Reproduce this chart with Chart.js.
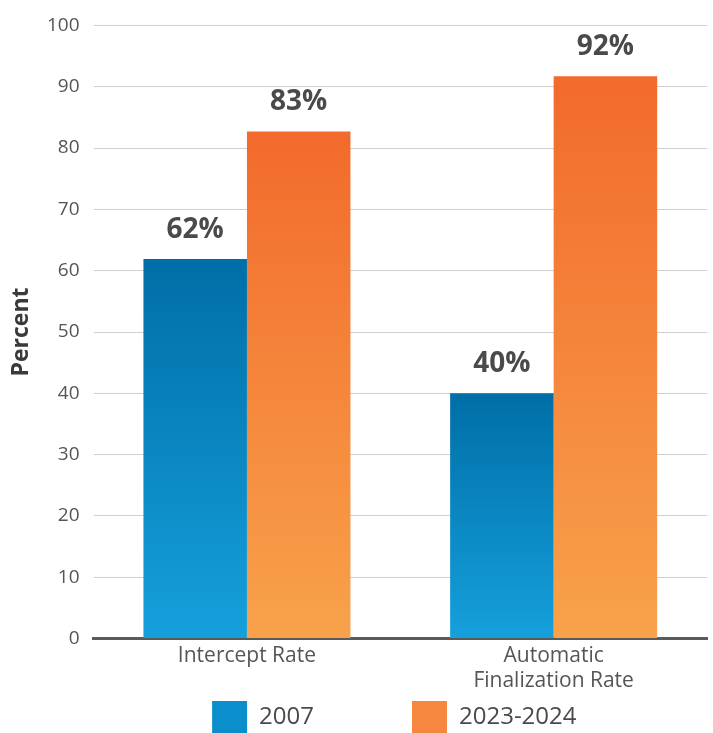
<!DOCTYPE html>
<html>
<head>
<meta charset="utf-8">
<script src="https://cdn.jsdelivr.net/npm/chart.js@4/dist/chart.umd.min.js"></script>
<style>
html,body{margin:0;padding:0;background:#fff;}
#wrap{width:713px;height:733px;position:relative;}
</style>
</head>
<body>
<div id="wrap"><canvas id="c" width="713" height="733"></canvas></div>
<script>
const categories = [["Intercept Rate"], ["Automatic", "Finalization Rate"]];
const seriesNames = ["2007", "2023-2024"];
const values2007 = [61.9, 40];
const values2023 = [82.7, 91.7];
const valueLabels2007 = ["62%", "40%"];
const valueLabels2023 = ["83%", "92%"];
const yTicks = [0, 10, 20, 30, 40, 50, 60, 70, 80, 90, 100];

const FONT = "'Open Sans', Lato, sans-serif";
const LEGEND_GAP = 98;

function barGradient(c, top, bottom, fallback) {
  const chart = c.chart;
  const y = chart.scales && chart.scales.y;
  if (!chart.chartArea || !y || c.type !== 'data') return fallback;
  const yTop = y.getPixelForValue(c.raw);
  const yBot = y.getPixelForValue(0);
  const g = chart.ctx.createLinearGradient(0, yTop, 0, yBot);
  g.addColorStop(0, top);
  g.addColorStop(1, bottom);
  return g;
}

const labelPlugin = {
  id: 'valueLabels',
  afterDatasetsDraw(chart) {
    const ctx = chart.ctx;
    const all = [valueLabels2007, valueLabels2023];
    ctx.save();
    ctx.font = "bold 28px " + FONT;
    ctx.fillStyle = "#4a4a4a";
    ctx.textAlign = "center";
    ctx.textBaseline = "alphabetic";
    chart.data.datasets.forEach((ds, i) => {
      const meta = chart.getDatasetMeta(i);
      meta.data.forEach((bar, j) => {
        ctx.fillText(all[i][j], bar.x, bar.y - 21);
      });
    });
    ctx.restore();
  }
};

// Spread legend items horizontally and centre them on the plot area
const legendSpread = {
  id: 'legendSpread',
  beforeDraw(chart) {
    const lg = chart.legend;
    if (!lg || !lg.legendItems) return;
    const lab = lg.options.labels;
    const oldPad = lab.padding;
    const ctx = chart.ctx;
    ctx.save();
    const fs = lab.font.size;
    ctx.font = fs + "px " + FONT;
    let total = 0;
    lg.legendItems.forEach(it => {
      total += lab.boxWidth + fs / 2 + ctx.measureText(it.text).width + LEGEND_GAP;
    });
    ctx.restore();
    const area = chart.chartArea;
    lg.left = area.left - 6;
    lg.right = area.right - 6;
    lg.width = area.right - area.left;
    lab.padding = LEGEND_GAP;
    lg.lineWidths = [total];
    lg.top -= (LEGEND_GAP - oldPad);
  }
};

new Chart(document.getElementById('c'), {
  type: 'bar',
  data: {
    labels: categories,
    datasets: [
      {
        label: seriesNames[0],
        data: values2007,
        backgroundColor: (c) => barGradient(c, '#006ea7', '#15a0dc', '#0a8fcc'),
        borderWidth: 0
      },
      {
        label: seriesNames[1],
        data: values2023,
        backgroundColor: (c) => barGradient(c, '#f26a2c', '#f8a24b', '#f5883e'),
        borderWidth: 0
      }
    ]
  },
  options: {
    responsive: false,
    animation: false,
    layout: { padding: { top: 15, right: 6, left: 0, bottom: -10 } },
    datasets: { bar: { categoryPercentage: 0.675, barPercentage: 1 } },
    scales: {
      x: {
        grid: { display: false, drawTicks: false },
        border: { display: true, color: '#5a5a5a', width: 3 },
        ticks: { color: '#555', font: { family: FONT, size: 21, lineHeight: 1.2 }, padding: 5 }
      },
      y: {
        min: 0, max: 100,
        afterBuildTicks: (axis) => { axis.ticks = yTicks.map(v => ({ value: v })); },
        grid: { color: '#cfcfcf', lineWidth: 1, drawTicks: false },
        border: { display: false },
        ticks: { color: '#555', font: { family: FONT, size: 19 }, padding: 14 },
        title: { display: true, text: 'Percent', color: '#3a3a3a', font: { family: FONT, size: 23, weight: 'bold', lineHeight: 1.0 }, padding: { top: 10, bottom: 0 } }
      }
    },
    plugins: {
      legend: {
        position: 'bottom',
        labels: {
          generateLabels: (chart) => seriesNames.map((n, i) => ({
            text: n,
            fillStyle: i === 0 ? '#0a8fcc' : '#f5883e',
            strokeStyle: 'rgba(0,0,0,0)',
            lineWidth: 0,
            datasetIndex: i,
            fontColor: '#4a4a4a'
          })),
          boxWidth: 35, boxHeight: 32, padding: 2,
          color: '#4a4a4a',
          font: { family: FONT, size: 24 }
        }
      },
      tooltip: { enabled: false }
    }
  },
  plugins: [labelPlugin, legendSpread]
});
</script>
</body>
</html>
